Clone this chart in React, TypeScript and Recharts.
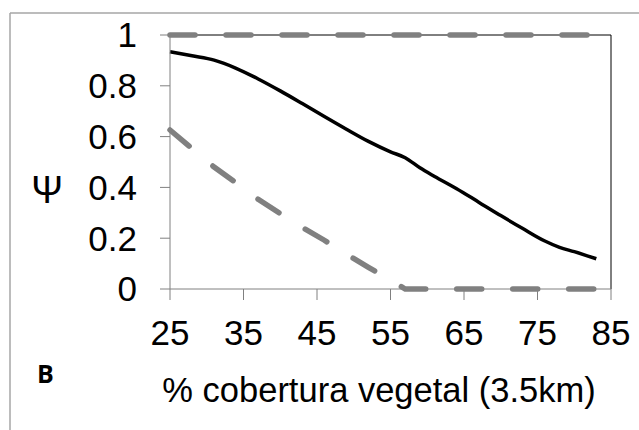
import React from 'react';
import { LineChart, Line, XAxis, YAxis, CartesianGrid } from 'recharts';

// % vegetation cover (3.5 km) sample points
const cover = [25, 28, 31, 34, 37, 40, 43, 46, 49, 52, 55, 57, 59, 61, 64, 67, 70, 73, 76, 78, 80, 83];
// estimated occupancy (solid black)
const psi = [0.934, 0.918, 0.901, 0.869, 0.827, 0.78, 0.73, 0.679, 0.629, 0.581, 0.54, 0.517, 0.477, 0.443, 0.395, 0.342, 0.289, 0.238, 0.189, 0.164, 0.147, 0.119];
// confidence bounds (grey dashed)
const upper = [1, 1, 1, 1, 1, 1, 1, 1, 1, 1, 1, 1, 1, 1, 1, 1, 1, 1, 1, 1, 1, 1];
const lower = [0.626, 0.553, 0.48, 0.418, 0.353, 0.297, 0.242, 0.192, 0.137, 0.085, 0.035, 0, 0, 0, 0, 0, 0, 0, 0, 0, 0, 0];

const xTicks = [25, 35, 45, 55, 65, 75, 85];
const yTicks = [0, 0.2, 0.4, 0.6, 0.8, 1];

const data = cover.map((c, i) => ({ cover: c, psi: psi[i], upper: upper[i], lower: lower[i] }));

const font = '"Liberation Sans", Arial, sans-serif';
const tickStyle = { fontSize: 35, fill: '#000', fontFamily: font };

const App: React.FC = () => {
  return (
    <div style={{ position: 'absolute', left: 0, top: 0, width: 639, height: 430, background: '#fff' }}>
      <LineChart width={639} height={430} data={data} margin={{ top: 35, right: 28, left: 0, bottom: 91 }}>
        <CartesianGrid stroke="#000" horizontalValues={[1]} verticalValues={[85]} />
        <XAxis
          dataKey="cover"
          type="number"
          domain={[25, 85]}
          ticks={xTicks}
          height={50}
          tickSize={11}
          tickMargin={20}
          stroke="#808080"
          tick={tickStyle}
          interval={0}
        />
        <YAxis
          type="number"
          domain={[0, 1]}
          ticks={yTicks}
          width={170}
          tickSize={10}
          tickMargin={23}
          stroke="#808080"
          tick={tickStyle}
          interval={0}
        />
        <Line type="monotone" dataKey="psi" stroke="#000" strokeWidth={3.5} dot={false} isAnimationActive={false} />
        <Line type="linear" dataKey="upper" stroke="#808080" strokeWidth={5.5} strokeDasharray="25 31" strokeLinecap="round" dot={false} isAnimationActive={false} />
        <Line type="linear" dataKey="lower" stroke="#808080" strokeWidth={5.5} strokeDasharray="25 31" strokeLinecap="round" dot={false} isAnimationActive={false} />
      </LineChart>
      <svg width={639} height={430} style={{ position: 'absolute', left: 0, top: 0, pointerEvents: 'none' }}>
        <line x1={10} y1={13} x2={10} y2={430} stroke="#a6a6a6" strokeWidth={1.5} />
        <line x1={10} y1={13} x2={639} y2={13} stroke="#a6a6a6" strokeWidth={1.5} />
        <text x={47} y={203} textAnchor="middle" fontSize={38} fontFamily={font}>Ψ</text>
        <text x={37} y={383} fontSize={25} fontWeight={700} fontFamily='"Open Sans", sans-serif'>B</text>
        <text x={379} y={402} textAnchor="middle" fontSize={34.5} fontFamily={font}>% cobertura vegetal (3.5km)</text>
      </svg>
    </div>
  );
};

export default App;
